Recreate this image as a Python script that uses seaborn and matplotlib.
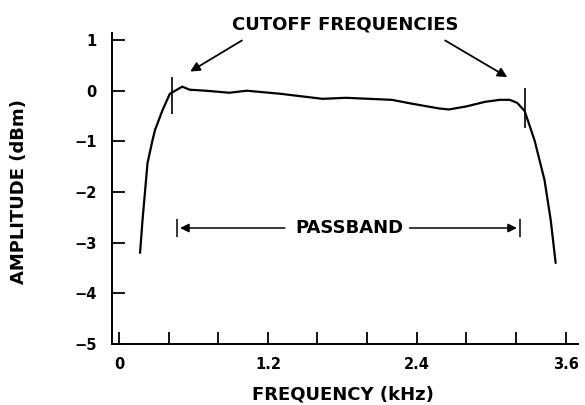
import numpy as np
import pandas as pd
import matplotlib
matplotlib.use("Agg")
import matplotlib.pyplot as plt
import seaborn as sns

# Response curve
freq_khz = [0.17, 0.19, 0.23, 0.27, 0.29, 0.35, 0.41, 0.51, 0.57, 0.70, 0.89, 1.03,
            1.30, 1.64, 1.83, 2.20, 2.37, 2.58, 2.66, 2.80, 2.95, 3.07, 3.15, 3.21,
            3.27, 3.35, 3.43, 3.48, 3.52]
amp_dbm = [-3.2, -2.55, -1.43, -0.98, -0.78, -0.39, -0.06, 0.08, 0.02, 0.0, -0.04, 0.0,
           -0.06, -0.16, -0.14, -0.18, -0.26, -0.35, -0.37, -0.31, -0.22, -0.18, -0.18, -0.24,
           -0.40, -0.98, -1.76, -2.55, -3.4]

cutoffs = [0.43, 3.27]
cutoff_top = [0.27, 0.06]
cutoff_bottom = [-0.45, -0.73]

x_ticks = [0, 0.4, 0.8, 1.2, 1.6, 2.0, 2.4, 2.8, 3.2, 3.6]
x_labels = ["0", "", "", "1.2", "", "", "2.4", "", "", "3.6"]
y_ticks = [1, 0, -1, -2, -3, -4, -5]
y_labels = ["1", "0", "\u22121", "\u22122", "\u22123", "\u22124", "\u22125"]

df = pd.DataFrame({"freq": freq_khz, "amp": amp_dbm})

sns.set_style("ticks")
plt.rcParams["font.family"] = ["DejaVu Sans"]
plt.rcParams["text.color"] = "black"
plt.rcParams["axes.labelcolor"] = "black"

fig = plt.figure(figsize=(5.85, 4.05), dpi=100)
ax = fig.add_axes([0.1915, 0.1506, 0.7965, 0.768])

sns.lineplot(data=df, x="freq", y="amp", color="black", linewidth=1.6, ax=ax)

# cutoff markers
ax.vlines(cutoffs, cutoff_bottom, cutoff_top, color="black", linewidth=1.2)

# cutoff arrows and label
arrow = dict(arrowstyle="-|>", color="black", lw=1.3, mutation_scale=14)
ax.annotate("", xy=(0.555, 0.35), xytext=(1.01, 1.02), arrowprops=arrow,
            annotation_clip=False)
ax.annotate("", xy=(3.15, 0.24), xytext=(2.61, 1.02), arrowprops=arrow,
            annotation_clip=False)
ax.text(1.82, 1.31, "CUTOFF FREQUENCIES", ha="center", va="center",
        fontsize=13, fontweight="bold", color="black", clip_on=False)

# passband
pb_y = -2.71
ax.annotate("", xy=(0.47, pb_y), xytext=(1.36, pb_y),
            arrowprops=dict(arrowstyle="-|>", color="black", lw=1.1, mutation_scale=13))
ax.annotate("", xy=(3.23, pb_y), xytext=(2.32, pb_y),
            arrowprops=dict(arrowstyle="-|>", color="black", lw=1.1, mutation_scale=13))
ax.vlines([0.47, 3.23], pb_y - 0.18, pb_y + 0.18, color="black", linewidth=1.1)
ax.text(1.86, pb_y, "PASSBAND", ha="center", va="center", fontsize=13,
        fontweight="bold", color="black")

ax.set_xlim(-0.056, 3.70)
ax.set_ylim(-5, 1.14)
ax.set_xticks(x_ticks)
ax.set_xticklabels(x_labels)
ax.set_yticks(y_ticks)
ax.set_yticklabels(y_labels)
ax.tick_params(direction="in", length=9, width=1.3, labelsize=10.5, colors="black")
ax.tick_params(axis="y", pad=11)
ax.tick_params(axis="x", pad=9)
for lbl in ax.get_xticklabels() + ax.get_yticklabels():
    lbl.set_fontweight("bold")
for s in ["top", "right"]:
    ax.spines[s].set_visible(False)
for s in ["left", "bottom"]:
    ax.spines[s].set_color("black")
    ax.spines[s].set_linewidth(1.4)

ax.set_xlabel("FREQUENCY (kHz)", fontsize=13, fontweight="bold", color="black")
ax.set_ylabel("AMPLITUDE (dBm)", fontsize=13, fontweight="bold", color="black")
ax.xaxis.set_label_coords(0.496, -0.135)
ax.yaxis.set_label_coords(-0.18, 0.489)

fig.savefig("out.png", dpi=100)
